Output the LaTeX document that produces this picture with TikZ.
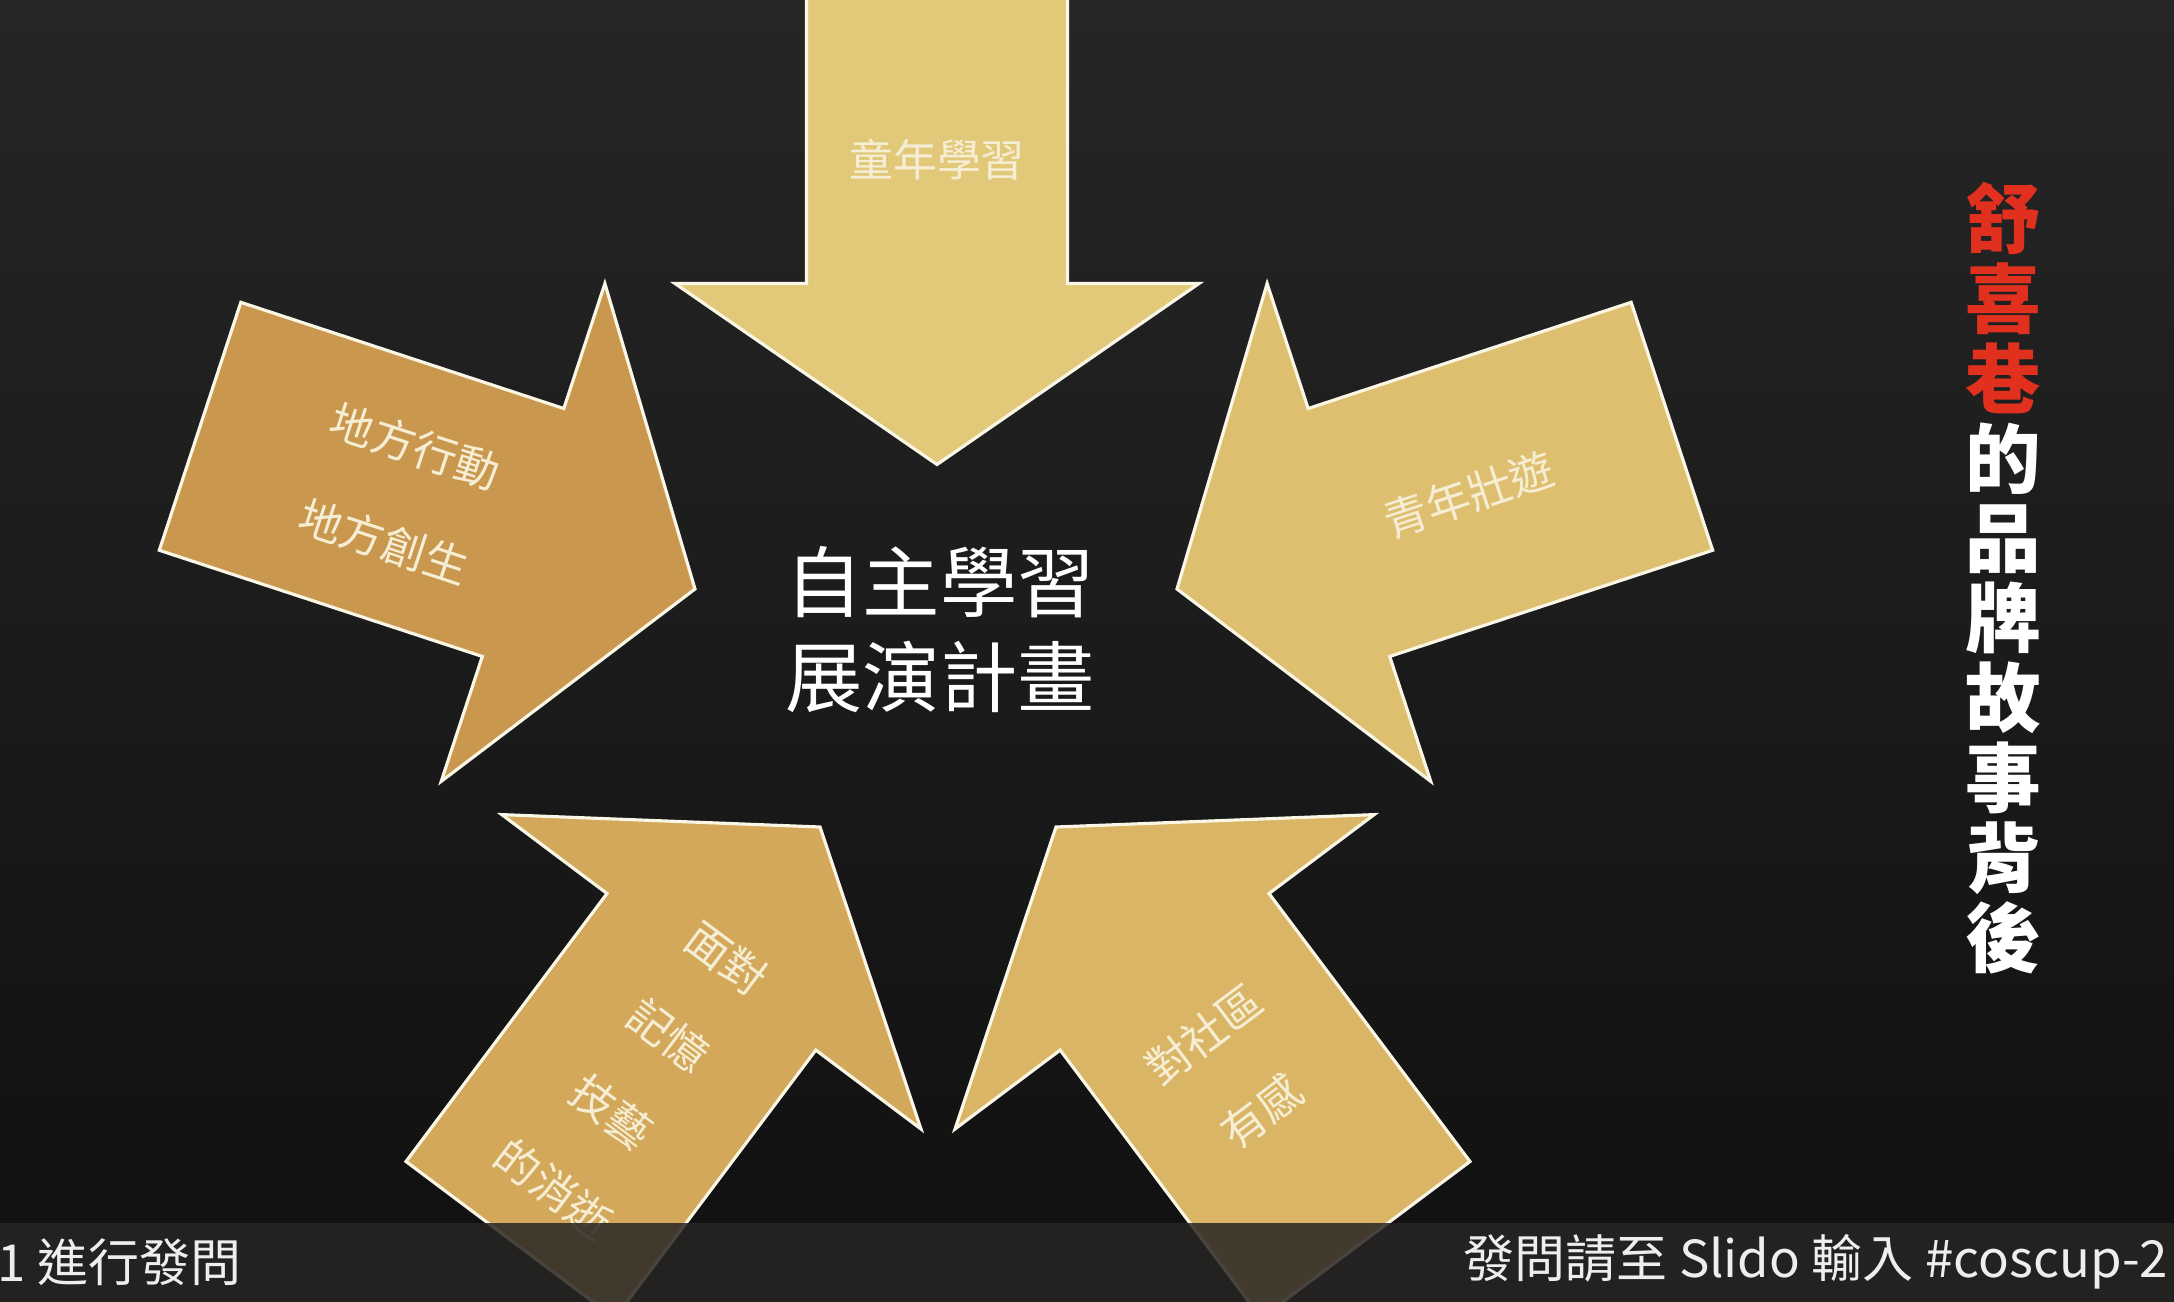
\documentclass[tikz,border=0pt]{standalone}
\usepackage{fontspec}
\setmainfont{Noto Sans CJK TC}
\definecolor{bgtop}{RGB}{38,38,38}
\definecolor{bgbot}{RGB}{16,16,16}
\definecolor{gTop}{RGB}{226,201,122}
\definecolor{gLeft}{RGB}{201,152,78}
\definecolor{gRight}{RGB}{222,191,112}
\definecolor{gBL}{RGB}{212,168,90}
\definecolor{gBR}{RGB}{217,181,101}
\definecolor{edgec}{RGB}{250,246,230}
\definecolor{lblc}{RGB}{246,238,212}
\definecolor{titlered}{RGB}{226,48,30}
\definecolor{bandc}{RGB}{40,38,36}
\definecolor{bandtext}{RGB}{238,238,238}
\tikzset{
  arrowshape/.style={draw=edgec, line width=0.9pt, line join=miter},
  lbl/.style={text=lblc, font=\fontsize{12.5}{27.3}\selectfont, align=center, inner sep=0pt},
  bandlbl/.style={text=bandtext, font=\fontsize{14.5}{16}\selectfont, inner sep=0pt, anchor=west},
}
% #1 fill colour, #2 tip x, #3 tip y, #4 direction angle, #5 shaft length
\newcommand\goldarrow[5]{%
  \begin{scope}[shift={(#2,#3)}, rotate=#4]
    \draw[arrowshape, fill=#1] (0,0) -- (-181,262) -- (-181,130.5) -- (-181-#5,130.5)
      -- (-181-#5,-130.5) -- (-181,-130.5) -- (-181,-262) -- cycle;
  \end{scope}}
\begin{document}
\begin{tikzpicture}[x=0.01cm, y=0.01cm]
\useasboundingbox (0,0) rectangle (2174,-1302);
\clip (0,0) rectangle (2174,-1302);
\fill[top color=bgtop, bottom color=bgbot] (0,0) rectangle (2174,-1302);

% arrows
\goldarrow{gTop}{937}{-464.5}{-90}{600}
\goldarrow{gLeft}{695}{-589}{-18.2}{340}
\goldarrow{gRight}{1177}{-589}{198.2}{340}
\goldarrow{gBL}{820}{-827}{53.13}{335}
\goldarrow{gBR}{1056}{-827}{126.87}{335}

% arrow labels
\node[lbl] (tTop) at (937,-160) {童年學習};
\node[lbl, rotate=-18.2, font=\fontsize{12.5}{28.5}\selectfont] (tLeft) at (399.5,-494) {地方行動\\地方創生};
\node[lbl, rotate=18.2] (tRight) at (1469,-495) {青年壯遊};
\node[lbl, rotate=-36.87] (tBL) at (640,-1073.5) {面對\\記憶\\技藝\\的消逝};
\node[lbl, rotate=36.87] (tBR) at (1233,-1073) {對社區\\有感};

% centre text
\node[text=white, font=\fontsize{22}{27}\selectfont, align=center, inner sep=0pt] (centre) at (940,-630) {自主學習\\展演計畫};

% vertical title
\node[font=\bfseries\fontsize{21.5}{22.7}\selectfont, align=center, text=white, inner sep=0pt] (title) at (2003,-578)
  {\textcolor{titlered}{舒}\\\textcolor{titlered}{喜}\\\textcolor{titlered}{巷}\\的\\品\\牌\\故\\事\\背\\後};

% bottom band
\fill[bandc, opacity=0.85] (0,-1223) rectangle (2174,-1302);
\node[bandlbl] (qL) at (-3,-1262) {1 進行發問};
\node[bandlbl] (qR) at (1463,-1262) {發問請至 Slido 輸入 \#coscup-2};
\end{tikzpicture}
\end{document}
